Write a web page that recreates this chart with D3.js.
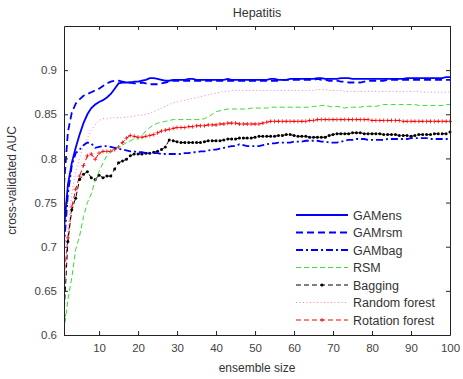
<!DOCTYPE html>
<html><head><meta charset="utf-8">
<script src="https://cdn.jsdelivr.net/npm/d3@7"></script>
<style>body{margin:0;background:#fff}svg{display:block}text{font-family:"Liberation Sans",Arial,sans-serif}</style>
</head><body>
<svg id="c" width="463" height="379"></svg>
<script>
const ensembleSize = d3.range(1, 101);
const xTicks = [10,20,30,40,50,60,70,80,90,100];
const yTicks = [0.6,0.65,0.7,0.75,0.8,0.85,0.9];
const yTickLabels = ["0.6","0.65","0.7","0.75","0.8","0.85","0.9"];
const seriesNames = ["GAMens","GAMrsm","GAMbag","RSM","Bagging","Random forest","Rotation forest"];

const gamens = [0.72,0.77,0.795,0.812,0.827,0.84,0.85,0.857,0.861,0.864,0.866,0.869,0.873,0.879,0.885,
0.886,0.886,0.886,0.887,0.887,0.888,0.889,0.891,0.891,0.890,0.889,0.888,0.888,0.889,0.889,
0.889,0.889,0.890,0.890,0.889,0.889,0.889,0.889,0.889,0.889,0.889,0.889,0.890,0.889,0.889,
0.889,0.889,0.889,0.889,0.889,0.889,0.889,0.889,0.890,0.890,0.889,0.889,0.889,0.890,0.890,
0.890,0.890,0.890,0.890,0.890,0.891,0.891,0.890,0.890,0.890,0.890,0.891,0.891,0.891,0.890,
0.890,0.890,0.890,0.890,0.890,0.890,0.890,0.890,0.890,0.890,0.890,0.890,0.890,0.891,0.891,
0.891,0.891,0.891,0.891,0.891,0.891,0.891,0.891,0.892,0.892];
const gamrsm = [0.77,0.83,0.852,0.862,0.867,0.871,0.873,0.875,0.877,0.879,0.882,0.885,0.887,0.888,0.888,
0.887,0.886,0.886,0.885,0.885,0.886,0.885,0.884,0.884,0.884,0.885,0.886,0.887,0.888,0.888,
0.888,0.888,0.888,0.888,0.888,0.888,0.888,0.888,0.888,0.888,0.888,0.888,0.888,0.888,0.888,
0.888,0.888,0.887,0.888,0.888,0.888,0.888,0.888,0.888,0.888,0.888,0.889,0.889,0.889,0.889,
0.889,0.889,0.889,0.889,0.889,0.890,0.889,0.889,0.888,0.888,0.888,0.887,0.887,0.886,0.886,
0.886,0.886,0.887,0.888,0.888,0.888,0.888,0.888,0.889,0.889,0.889,0.889,0.889,0.889,0.889,
0.889,0.889,0.889,0.889,0.889,0.889,0.889,0.889,0.889,0.889];
const gambag = [0.70,0.76,0.792,0.806,0.810,0.815,0.818,0.817,0.812,0.813,0.814,0.814,0.813,0.812,0.811,
0.810,0.809,0.808,0.808,0.807,0.807,0.806,0.806,0.806,0.806,0.805,0.805,0.805,0.805,0.805,
0.805,0.806,0.806,0.807,0.807,0.808,0.808,0.809,0.810,0.810,0.811,0.812,0.813,0.814,0.814,
0.816,0.815,0.814,0.814,0.814,0.814,0.815,0.816,0.817,0.817,0.818,0.818,0.818,0.818,0.819,
0.819,0.819,0.820,0.820,0.820,0.820,0.819,0.819,0.818,0.818,0.818,0.819,0.820,0.821,0.821,
0.822,0.822,0.822,0.821,0.821,0.821,0.821,0.821,0.822,0.822,0.822,0.822,0.822,0.822,0.823,
0.823,0.823,0.823,0.823,0.822,0.822,0.822,0.822,0.822,0.822];
const rsm = [0.605,0.64,0.665,0.697,0.712,0.734,0.75,0.76,0.775,0.785,0.795,0.803,0.808,0.811,0.813,
0.815,0.818,0.820,0.822,0.822,0.826,0.831,0.835,0.838,0.840,0.841,0.842,0.843,0.844,0.844,
0.844,0.844,0.844,0.844,0.844,0.844,0.845,0.847,0.850,0.853,0.854,0.855,0.856,0.856,0.856,
0.856,0.856,0.856,0.857,0.857,0.857,0.857,0.857,0.858,0.858,0.858,0.858,0.858,0.858,0.858,
0.858,0.858,0.858,0.858,0.859,0.859,0.860,0.860,0.859,0.858,0.859,0.858,0.857,0.858,0.858,
0.858,0.858,0.859,0.859,0.859,0.859,0.860,0.861,0.861,0.861,0.861,0.861,0.861,0.861,0.861,
0.861,0.860,0.860,0.860,0.860,0.860,0.860,0.860,0.861,0.861];
const bagging = [0.622,0.706,0.742,0.755,0.776,0.782,0.785,0.778,0.776,0.781,0.778,0.780,0.780,0.788,0.795,
0.797,0.799,0.803,0.805,0.805,0.805,0.806,0.806,0.807,0.808,0.810,0.813,0.821,0.820,0.819,
0.818,0.818,0.818,0.818,0.818,0.818,0.819,0.820,0.820,0.820,0.820,0.821,0.822,0.822,0.822,
0.823,0.823,0.823,0.823,0.824,0.825,0.825,0.825,0.825,0.825,0.826,0.826,0.827,0.827,0.826,
0.825,0.825,0.825,0.824,0.824,0.824,0.824,0.824,0.826,0.827,0.828,0.828,0.828,0.828,0.829,
0.829,0.829,0.828,0.828,0.828,0.828,0.828,0.827,0.827,0.827,0.827,0.826,0.826,0.826,0.825,
0.826,0.827,0.827,0.827,0.827,0.828,0.828,0.828,0.828,0.830];
const randomForest = [0.665,0.72,0.76,0.785,0.80,0.815,0.823,0.832,0.838,0.843,0.845,0.845,0.846,0.846,0.846,
0.846,0.847,0.847,0.848,0.849,0.849,0.850,0.851,0.853,0.855,0.857,0.859,0.861,0.863,0.864,
0.865,0.866,0.867,0.868,0.869,0.870,0.871,0.872,0.873,0.874,0.875,0.876,0.876,0.877,0.877,
0.877,0.877,0.877,0.877,0.877,0.877,0.877,0.877,0.877,0.877,0.877,0.877,0.877,0.877,0.877,
0.877,0.877,0.877,0.877,0.877,0.878,0.878,0.878,0.877,0.877,0.877,0.877,0.876,0.876,0.876,
0.876,0.876,0.876,0.876,0.876,0.876,0.876,0.876,0.876,0.876,0.876,0.876,0.876,0.876,0.876,
0.876,0.876,0.875,0.875,0.875,0.875,0.875,0.875,0.875,0.875];
const rotationForest = [0.665,0.71,0.745,0.765,0.78,0.792,0.803,0.805,0.799,0.806,0.808,0.808,0.808,0.810,0.813,
0.818,0.823,0.826,0.825,0.824,0.824,0.825,0.826,0.827,0.829,0.831,0.832,0.833,0.834,0.835,
0.835,0.835,0.836,0.836,0.837,0.837,0.837,0.838,0.838,0.838,0.839,0.839,0.840,0.840,0.840,
0.839,0.839,0.839,0.839,0.839,0.839,0.840,0.841,0.842,0.842,0.842,0.842,0.842,0.842,0.842,
0.842,0.842,0.842,0.843,0.843,0.844,0.844,0.844,0.844,0.844,0.844,0.844,0.844,0.844,0.844,
0.844,0.844,0.844,0.844,0.843,0.843,0.843,0.843,0.843,0.843,0.843,0.843,0.842,0.842,0.842,
0.842,0.842,0.842,0.842,0.842,0.842,0.842,0.842,0.842,0.842];

const seriesValues = [gamens, gamrsm, gambag, rsm, bagging, randomForest, rotationForest];
const styles = [
  {color:"#0000ff", w:1.8, dash:null, marker:null},
  {color:"#0000ff", w:1.8, dash:"7,4", marker:null},
  {color:"#0000ff", w:1.8, dash:"7,3,2,3", marker:null},
  {color:"#33dd33", w:1, dash:"5,3", marker:null},
  {color:"#000000", w:1, dash:"5,3", marker:"dot"},
  {color:"#ff77dd", w:1, dash:"1,2.5", marker:null},
  {color:"#ff0000", w:1, dash:"5,3", marker:"plus"}
];

const svg = d3.select("#c");
const L=64, R=450, T=26, B=335;
const x = d3.scaleLinear().domain([1,100]).range([L,R]);
const y = d3.scaleLinear().domain([0.6,0.95]).range([B,T]);

svg.append("rect").attr("x",L).attr("y",T).attr("width",R-L).attr("height",B-T).attr("fill","#fff");

svg.append("clipPath").attr("id","clp").append("rect").attr("x",L).attr("y",T-2).attr("width",R-L+2).attr("height",B-T+4);
const g = svg.append("g").attr("clip-path","url(#clp)");
const line = d3.line().x((d,i)=>x(ensembleSize[i])).y(d=>y(d));

for (let k=seriesValues.length-1;k>=0;k--){
  const s=styles[k], vals=seriesValues[k];
  g.append("path").attr("d",line(vals)).attr("fill","none").attr("stroke",s.color)
    .attr("stroke-width",s.w).attr("stroke-dasharray",s.dash);
  if(s.marker==="dot"){
    g.selectAll(null).data(vals).enter().append("circle")
      .attr("cx",(d,i)=>x(ensembleSize[i])).attr("cy",d=>y(d)).attr("r",1.5).attr("fill",s.color);
  } else if(s.marker==="plus"){
    g.selectAll(null).data(vals).enter().append("path")
      .attr("d",(d,i)=>{const cx=x(ensembleSize[i]),cy=y(d);return `M${cx-2},${cy}H${cx+2}M${cx},${cy-2}V${cy+2}`;})
      .attr("stroke",s.color).attr("stroke-width",0.8);
  }
}

const axColor="#222";
const xb = svg.append("g").attr("transform",`translate(0,${B})`).call(d3.axisBottom(x).tickValues(xTicks).tickSizeInner(-4).tickSizeOuter(0).tickPadding(9));
const xt = svg.append("g").attr("transform",`translate(0,${T})`).call(d3.axisTop(x).tickValues(xTicks).tickSizeInner(-4).tickSizeOuter(0).tickFormat(""));
const yl = svg.append("g").attr("transform",`translate(${L},0)`).call(d3.axisLeft(y).tickValues(yTicks).tickSizeInner(-4).tickSizeOuter(0).tickPadding(7).tickFormat((d,i)=>yTickLabels[i]));
const yr = svg.append("g").attr("transform",`translate(${R},0)`).call(d3.axisRight(y).tickValues(yTicks).tickSizeInner(-4).tickSizeOuter(0).tickFormat(""));
[xb,xt,yl,yr].forEach(a=>{
  a.select(".domain").attr("stroke",axColor);
  a.selectAll(".tick line").attr("stroke",axColor);
  a.selectAll("text").attr("fill","#444").style("font-size","11.5px").style("font-family","'Liberation Sans',Arial,sans-serif");
});

svg.append("text").attr("x",(L+R)/2).attr("y",17).attr("text-anchor","middle").attr("fill","#333").style("font-size","12.5px").text("Hepatitis");
svg.append("text").attr("x",(L+R)/2).attr("y",372).attr("text-anchor","middle").attr("fill","#333").style("font-size","12px").text("ensemble size");
svg.append("text").attr("transform",`translate(16,${(T+B)/2}) rotate(-90)`).attr("text-anchor","middle").attr("fill","#333").style("font-size","12px").text("cross-validated AUC");

const lg = svg.append("g");
seriesNames.forEach((name,k)=>{
  const s=styles[k]; const ly=215+k*17.5;
  lg.append("line").attr("x1",296).attr("x2",348).attr("y1",ly).attr("y2",ly).attr("stroke",s.color)
    .attr("stroke-width",s.w).attr("stroke-dasharray",s.dash);
  if(s.marker==="dot") lg.append("circle").attr("cx",322).attr("cy",ly).attr("r",1.6).attr("fill",s.color);
  if(s.marker==="plus") lg.append("path").attr("d",`M320,${ly}H324M322,${ly-2}V${ly+2}`).attr("stroke",s.color).attr("stroke-width",0.8);
  lg.append("text").attr("x",353).attr("y",ly+4.5).attr("fill","#333").style("font-size","12.5px").text(name);
});
</script>
</body></html>
